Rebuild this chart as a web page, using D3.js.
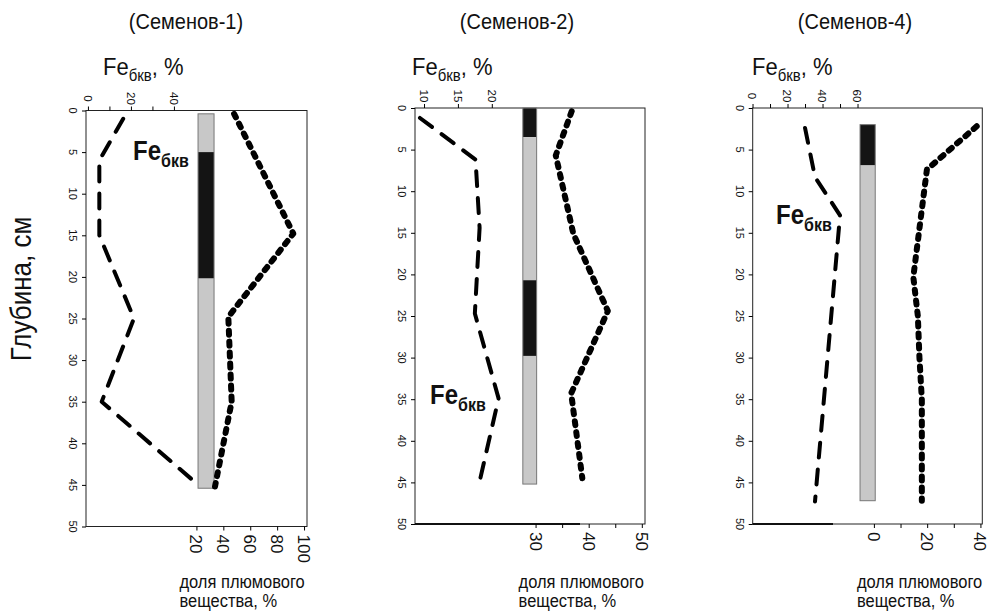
<!DOCTYPE html>
<html><head><meta charset="utf-8">
<script src="https://cdn.jsdelivr.net/npm/d3@7/dist/d3.min.js"></script>
<style>body{margin:0;background:#fff}svg{display:block}text{font-family:"Liberation Sans",Arial,sans-serif;fill:#111}</style>
</head><body><svg id="c" width="998" height="614"></svg>
<script>
// ---- data ----
const titles = ["(Семенов-1)", "(Семенов-2)", "(Семенов-4)"];
const depthTicks = [0,5,10,15,20,25,30,35,40,45,50];

const feDepth1 = [1, 6, 15, 25, 35, 45];
const fe1      = [16.4, 5.3, 5.3, 21.4, 6.4, 51.3];
const plumeDepth1 = [0.4, 14.8, 24.8, 35, 45.2];
const plume1      = [48, 92, 43.7, 46.2, 33.8];
const barEdges1 = [0.4, 5, 20.2, 45.4];
const barShade1 = ["light", "dark", "light"];
const barX1 = [21.2, 33.1];
const feTicks1 = [0, 20, 40], feMinor1 = [10, 30];
const plumeTicks1 = [20, 40, 60, 80, 100], plumeMinor1 = [];

const feDepth2 = [1.2, 6.2, 14.4, 24.7, 34.9, 44.9];
const fe2      = [9.4, 17.6, 18.2, 17.5, 21.0, 18.2];
const plumeDepth2 = [0.4, 5.7, 15.1, 24.4, 34.3, 44.5];
const plume2      = [36.8, 33.8, 37.1, 43.6, 36.7, 38.8];
const barEdges2 = [0, 3.5, 20.7, 29.8, 45.2];
const barShade2 = ["dark", "light", "dark", "light"];
const barX2 = [27.6, 30.2];
const feTicks2 = [10, 15, 20], feMinor2 = [];
const plumeTicks2 = [30, 40, 50], plumeMinor2 = [35, 45];

const feDepth3 = [2.4, 8.3, 12.9, 47.3];
const fe3      = [30, 35.7, 50, 35.7];
const plumeDepth3 = [2.2, 7.4, 20.3, 25, 30, 35, 47.2];
const plume3      = [38.6, 19.9, 14.8, 16.5, 17.1, 18, 18];
const barEdges3 = [2.0, 6.9, 47.2];
const barShade3 = ["dark", "light"];
const barX3 = [-5.2, 0.5];
const feTicks3 = [0, 20, 40, 60], feMinor3 = [10, 30, 50];
const plumeTicks3 = [0, 20, 40], plumeMinor3 = [10, 30];

// ---- layout ----
const panels = [
  {x0:86, x1:307, y0:110.5, y1:526.5, feDom:[-0.9,101.9], plDom:[-62.1,102.2],
   feD:feDepth1, fe:fe1, plD:plumeDepth1, pl:plume1, bE:barEdges1, bS:barShade1, bX:barX1,
   feT:feTicks1, feM:feMinor1, plT:plumeTicks1, plM:plumeMinor1,
   title:titles[0], tx:186, axT:103, lab:[133,160], thick:null},
  {x0:415, x1:645, y0:108, y1:524, feDom:[8.67,42.6], plDom:[7.3,50.6],
   feD:feDepth2, fe:fe2, plD:plumeDepth2, pl:plume2, bE:barEdges2, bS:barShade2, bX:barX2,
   feT:feTicks2, feM:feMinor2, plT:plumeTicks2, plM:plumeMinor2,
   title:titles[1], tx:517, axT:412, lab:[430,404], thick:[415,580]},
  {x0:752.7, x1:982.3, y0:108, y1:524, feDom:[0.1,131.3], plDom:[-45.5,40.7],
   feD:feDepth3, fe:fe3, plD:plumeDepth3, pl:plume3, bE:barEdges3, bS:barShade3, bX:barX3,
   feT:feTicks3, feM:feMinor3, plT:plumeTicks3, plM:plumeMinor3,
   title:titles[2], tx:855, axT:752, lab:[776,224], thick:[752.7,833]}
];
const shadeColor = {light:"#c8c8c8", dark:"#141414"};
const SY = 1.12; // reference text is slightly taller than wide

const svg = d3.select("#c");

svg.append("text").attr("transform",`translate(31,289) rotate(-90) scale(1,${SY})`)
  .attr("text-anchor","middle").attr("font-size",26).text("Глубина, см");

panels.forEach(p => {
  const g = svg.append("g");
  const y = d3.scaleLinear().domain([0,50]).range([p.y0,p.y1]);
  const xf = d3.scaleLinear().domain(p.feDom).range([p.x0,p.x1]);
  const xp = d3.scaleLinear().domain(p.plDom).range([p.x0,p.x1]);

  // title
  g.append("text").attr("transform",`translate(${p.tx},29) scale(1,${SY})`).attr("text-anchor","middle")
    .attr("font-size",20).text(p.title);
  // Fe axis title
  const t = g.append("text").attr("transform",`translate(${p.axT},75) scale(1,${SY})`).attr("font-size",22);
  t.append("tspan").text("Fe");
  t.append("tspan").attr("font-size",15).attr("dy",5).text("бкв");
  t.append("tspan").attr("dy",-5).text(", %");

  // frame
  g.append("rect").attr("x",p.x0).attr("y",p.y0).attr("width",p.x1-p.x0).attr("height",p.y1-p.y0)
    .attr("fill","none").attr("stroke","#222").attr("stroke-width",1);
  if (p.thick) g.append("line").attr("x1",p.thick[0]).attr("x2",p.thick[1])
    .attr("y1",p.y1).attr("y2",p.y1).attr("stroke","#111").attr("stroke-width",2.2);

  // left depth axis
  const la = g.append("g").attr("transform",`translate(${p.x0},0)`)
    .call(d3.axisLeft(y).tickValues(depthTicks).tickSize(4).tickFormat(""));
  la.select(".domain").remove();
  g.selectAll(".dl").data(depthTicks).join("text")
    .attr("transform",d=>`translate(${p.x0-13},${y(d)}) rotate(90)`)
    .attr("text-anchor","middle").attr("dy","0.35em").attr("font-size",11).text(d=>d);

  // top Fe axis
  const ta = g.append("g").attr("transform",`translate(0,${p.y0})`)
    .call(d3.axisTop(xf).tickValues(p.feT.concat(p.feM)).tickSize(4).tickFormat(""));
  ta.select(".domain").remove();
  g.selectAll(".tl").data(p.feT).join("text")
    .attr("transform",d=>`translate(${xf(d)},${p.y0-12}) rotate(90)`)
    .attr("text-anchor","middle").attr("dy","0.35em").attr("font-size",11.5).text(d=>d);

  // bottom plume axis
  const ba = g.append("g").attr("transform",`translate(0,${p.y1})`)
    .call(d3.axisBottom(xp).tickValues(p.plT.concat(p.plM)).tickSize(4).tickFormat(""));
  ba.select(".domain").remove();
  g.selectAll(".bl").data(p.plT).join("text")
    .attr("transform",d=>`translate(${xp(d)},${p.y1+8}) rotate(90)`)
    .attr("text-anchor","start").attr("dy","0.35em").attr("font-size",17).text(d=>d);

  // bottom axis title
  const bx = xp(p.plT[0])-17;
  g.append("text").attr("transform",`translate(${bx},588) scale(1,${SY})`).attr("font-size",16.5).text("доля плюмового");
  g.append("text").attr("transform",`translate(${bx},607) scale(1,${SY})`).attr("font-size",16.5).text("вещества, %");

  // bar
  const segs = p.bS.map((s,i)=>({a:p.bE[i], b:p.bE[i+1], s}));
  g.selectAll(".seg").data(segs).join("rect")
    .attr("x",xp(p.bX[0])).attr("width",xp(p.bX[1])-xp(p.bX[0]))
    .attr("y",d=>y(d.a)).attr("height",d=>y(d.b)-y(d.a))
    .attr("fill",d=>shadeColor[d.s]);
  g.append("rect").attr("x",xp(p.bX[0])).attr("width",xp(p.bX[1])-xp(p.bX[0]))
    .attr("y",y(p.bE[0])).attr("height",y(p.bE[p.bE.length-1])-y(p.bE[0]))
    .attr("fill","none").attr("stroke","#777").attr("stroke-width",1);

  // Fe dashed line
  const lf = d3.line().x(d=>xf(d[1])).y(d=>y(d[0]));
  g.append("path").attr("d",lf(d3.zip(p.feD,p.fe))).attr("fill","none")
    .attr("stroke","#000").attr("stroke-width",4).attr("stroke-linecap","round")
    .attr("stroke-linejoin","round").attr("stroke-dasharray","15,12");
  // plume dotted line
  const lp = d3.line().x(d=>xp(d[1])).y(d=>y(d[0]));
  g.append("path").attr("d",lp(d3.zip(p.plD,p.pl))).attr("fill","none")
    .attr("stroke","#000").attr("stroke-width",6).attr("stroke-linecap","round")
    .attr("stroke-linejoin","round").attr("stroke-dasharray","4,7");

  // Fe label
  const fl = g.append("text").attr("transform",`translate(${p.lab[0]},${p.lab[1]}) scale(1,${SY})`)
    .attr("font-size",24).attr("font-weight","bold");
  fl.append("tspan").text("Fe");
  fl.append("tspan").attr("font-size",16).attr("dy",6).text("бкв");
});
</script></body></html>
